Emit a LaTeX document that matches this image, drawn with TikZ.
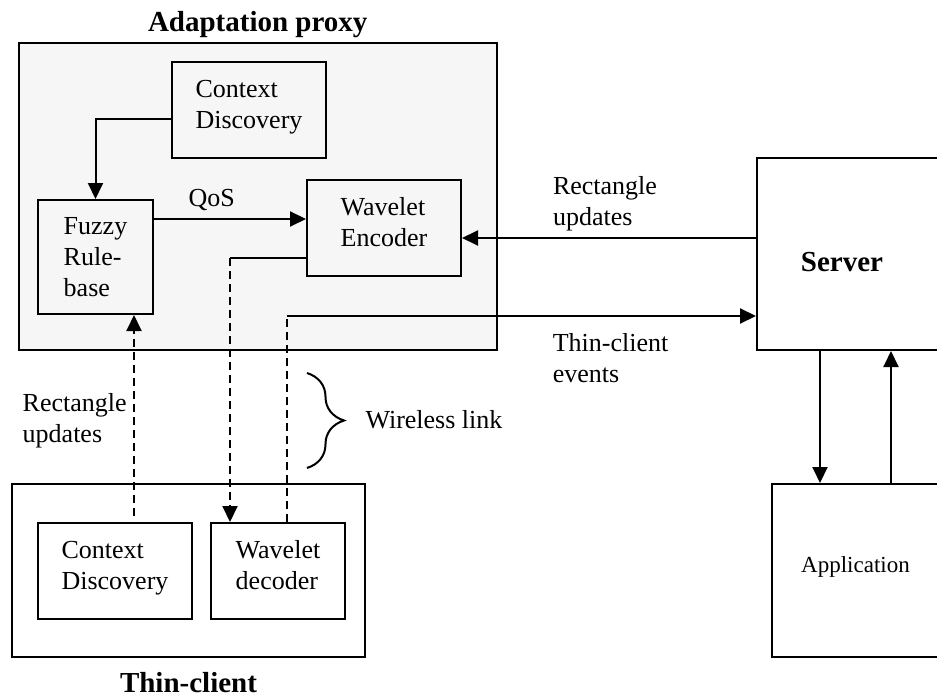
\documentclass[tikz,border=0pt]{standalone}
\usepackage{fontspec}
\setmainfont{Liberation Serif}
\usepackage{tikz}
\usetikzlibrary{arrows.meta, positioning, calc, decorations.pathreplacing}
\definecolor{proxyfill}{RGB}{246,246,246}

\begin{document}
\begin{tikzpicture}[
        x=1pt, y=-1pt,
        font=\fontsize{26}{31}\selectfont,
        box/.style={draw, line width=2pt, inner sep=0pt, align=left},
        group/.style={draw, line width=2pt, inner sep=0pt},
        title/.style={font=\fontsize{29}{34}\selectfont\bfseries},
        arr/.style={-{Triangle[length=16pt, width=15pt]}, line width=2pt},
        dasharr/.style={arr, dash pattern=on 8pt off 5pt},
        link/.style={line width=2pt}
    ]
        \useasboundingbox (0,0) rectangle (937,698);
        \clip (0,0) rectangle (937,698);

        % Groups
        \node[group, fill=proxyfill, minimum width=478.5pt, minimum height=307pt] (proxy) at (257.75,196.5) {};
        \node[title, above=1pt of proxy] (proxytitle) {Adaptation proxy};
        \node[group, minimum width=353pt, minimum height=173pt] (thin) at (188.5,570.5) {};
        \node[title, below=11pt of thin] (thintitle) {Thin-client};

        % Proxy blocks
        \node[box, minimum width=154pt, minimum height=96pt] (ctxA) at (249,110) {Context\\Discovery\\[-19pt]};
        \node[box, minimum width=115pt, minimum height=114pt] (fuzzy) at (95.5,257) {Fuzzy\\Rule-\\base};
        \node[box, minimum width=154pt, minimum height=96pt] (enc) at (384,228) {Wavelet\\Encoder\\[-19pt]};

        % Client blocks
        \node[box, minimum width=154pt, minimum height=96pt] (ctxB) at (115,571) {Context\\Discovery\\[-19pt]};
        \node[box, minimum width=134pt, minimum height=96pt] (dec) at (278,571) {Wavelet\\decoder\\[-19pt]};

        % Server side
        \node[group, minimum width=188pt, minimum height=192pt,
              label={[title, xshift=-9pt, yshift=-8pt]center:Server}] (server) at (851,254) {};
        \node[group, minimum width=173pt, minimum height=173pt,
              label={[font=\fontsize{23}{27}\selectfont, xshift=-3pt, yshift=4pt]center:Application}] (app) at (858.5,570.5) {};

        % Connectors inside proxy
        \draw[arr] ([yshift=-9pt]ctxA.west) -| (fuzzy.north);
        \draw[arr] ([yshift=38pt]fuzzy.east) -- node[above=4pt, pos=0.38] {QoS} ([yshift=9pt]enc.west);

        % Server links
        \draw[arr] ([yshift=16pt]server.west) -- node[above=3pt, xshift=-4pt, align=left] {Rectangle\\updates} ([yshift=-10pt]enc.east);
        \coordinate (evtcorner) at ([xshift=9pt]dec.north |- 0,316);
        \draw[dash pattern=on 8pt off 5pt, line width=2pt] ([xshift=9pt]dec.north) -- (evtcorner);
        \draw[arr] (evtcorner) -- node[below=13pt, pos=0.69, align=left] {Thin-client\\events} ([yshift=-62pt]server.west);

        % Wireless link
        \coordinate (enccorner) at ([yshift=-30pt]enc.west -| 230,0);
        \draw[link] ([yshift=-30pt]enc.west) -- (enccorner);
        \draw[dasharr] (enccorner) -- ([xshift=-48pt]dec.north);
        \draw[dasharr] ([xshift=19pt, yshift=6pt]ctxB.north) -- node[left=3pt, yshift=-5pt, align=left] {Rectangle\\updates} ([xshift=38.5pt]fuzzy.south);
        \draw[link, decorate, decoration={brace, amplitude=37pt}] (307,373) -- (307,468);
        \node[anchor=west] (wireless) at (362,420) {Wireless link};

        % Application
        \draw[arr] ([xshift=-31pt]server.south) -- ([xshift=-38.5pt]app.north);
        \draw[arr] ([xshift=32.5pt]app.north) -- ([xshift=40pt]server.south);
    \end{tikzpicture}
\end{document}
